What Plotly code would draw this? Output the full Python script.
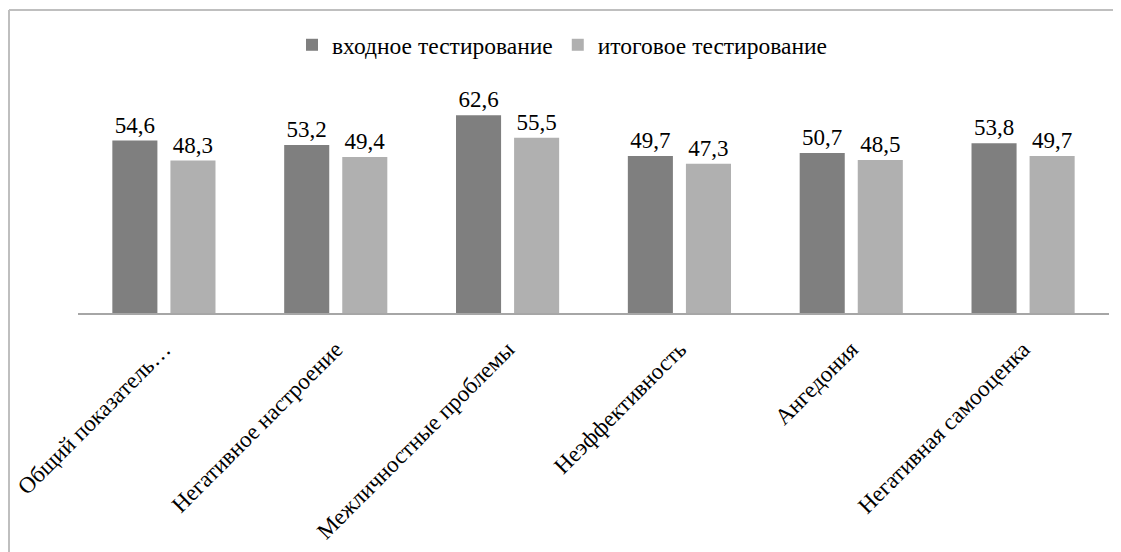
import plotly.graph_objects as go

categories = ["Общий показатель…", "Негативное настроение", "Межличностные проблемы",
              "Неэффективность", "Ангедония", "Негативная самооценка"]
series_names = ["входное тестирование", "итоговое тестирование"]
entry_values = [54.6, 53.2, 62.6, 49.7, 50.7, 53.8]
final_values = [48.3, 49.4, 55.5, 47.3, 48.5, 49.7]
colors = ["#7f7f7f", "#b0b0b0"]

FONT = "Liberation Serif, Times New Roman, serif"

def fmt(v):
    return f"{v:.1f}".replace(".", ",")

fig = go.Figure()
for name, vals, col in zip(series_names, [entry_values, final_values], colors):
    fig.add_trace(go.Bar(
        x=categories, y=vals, name=name,
        marker=dict(color=col, line=dict(width=0)),
        text=[fmt(v) for v in vals], textposition="outside",
        textfont=dict(family=FONT, size=23, color="black"),
        cliponaxis=False,
    ))

OFF = 8  # page body offset
W, H = 1121 - OFF, 552 - OFF
L, R, T, B = 78 - OFF, 12, 92 - OFF, 552 - 313
pw, ph = W - L - R, H - T - B

def px_x(x):
    return (x - OFF - L) / pw

def px_y(y):
    return (H - B - (y - OFF)) / ph

fig.update_layout(
    width=W, height=H,
    margin=dict(l=L, r=R, t=T, b=B, autoexpand=False),
    paper_bgcolor="white", plot_bgcolor="white",
    barmode="group", bargap=0.324, bargroupgap=0.224,
    font=dict(family=FONT, color="black"),
    showlegend=True,
    legend=dict(orientation="h", x=px_x(292), xanchor="left", y=px_y(45), yanchor="middle",
                font=dict(family=FONT, size=23.5, color="black"),
                itemwidth=30, traceorder="normal"),
    xaxis=dict(showline=True, linecolor="#a6a6a6", linewidth=1.5, ticks="",
               tickangle=-45, tickfont=dict(family=FONT, size=23, color="black"),
               ticklabelstandoff=12,
               showgrid=False, automargin=False),
    yaxis=dict(range=[0, 70], visible=False, showgrid=False, automargin=False),
    shapes=[
        dict(type="line", xref="paper", yref="paper", x0=px_x(9), x1=px_x(1125),
             y0=px_y(10), y1=px_y(10), line=dict(color="#bfbfbf", width=2)),
        dict(type="line", xref="paper", yref="paper", x0=px_x(9), x1=px_x(9),
             y0=px_y(10), y1=px_y(560), line=dict(color="#bfbfbf", width=2)),
    ],
)

fig.write_html("out.html")
